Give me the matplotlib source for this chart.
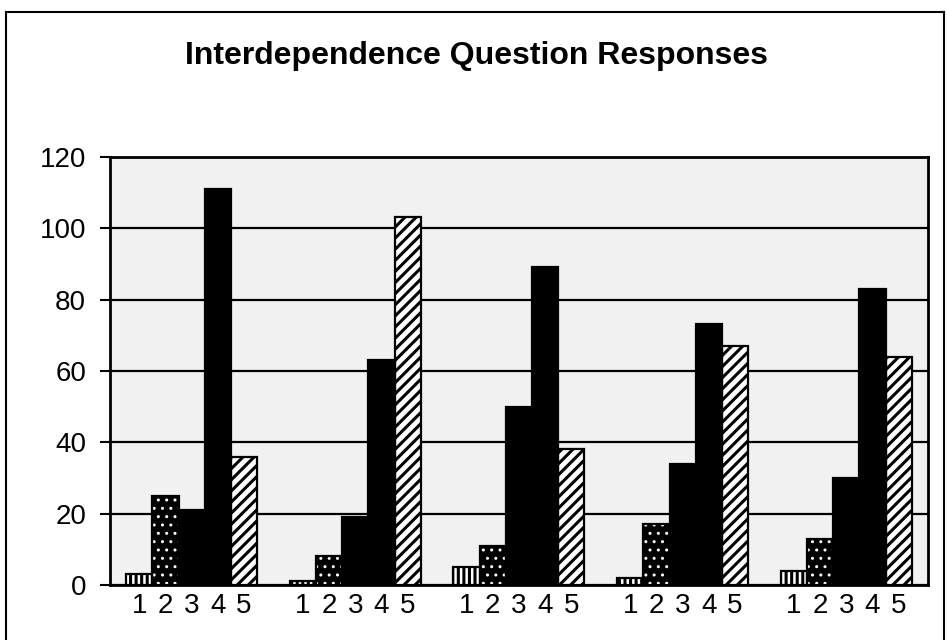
import numpy as np
import matplotlib
matplotlib.use('Agg')
import matplotlib.pyplot as plt
from matplotlib.lines import Line2D

# answers 1..5 for each of the five interdependence questions
questions = ['Q1', 'Q2', 'Q3', 'Q4', 'Q5']
responses = ['1', '2', '3', '4', '5']
resp1 = [3, 1, 5, 2, 4]
resp2 = [25, 8, 11, 17, 13]
resp3 = [21, 19, 50, 34, 30]
resp4 = [111, 63, 89, 73, 83]
resp5 = [36, 103, 38, 67, 64]
yticks = [0, 20, 40, 60, 80, 100, 120]

plt.rcParams['font.family'] = ['Liberation Sans', 'DejaVu Sans']
plt.rcParams['hatch.linewidth'] = 2.2

fig = plt.figure(figsize=(9.47, 6.4), dpi=100)
ax = fig.add_axes([0.116, 0.086, 0.864, 0.669])
ax.set_facecolor('#f1f1f1')

x = np.arange(len(questions))
w = 0.16
series = [resp1, resp2, resp3, resp4, resp5]
styles = [
    dict(facecolor='white', hatch='|||', hatch_edge='black'),
    dict(facecolor='black', hatch='..', hatch_edge='white'),
    dict(facecolor='black', hatch=None, hatch_edge='black'),
    dict(facecolor='black', hatch=None, hatch_edge='black'),
    dict(facecolor='white', hatch='///', hatch_edge='black'),
]

ticks_x = []
ticks_lbl = []
for j, (vals, st) in enumerate(zip(series, styles)):
    pos = x + (j - 2) * w
    bars = ax.bar(pos, vals, width=w, facecolor=st['facecolor'], edgecolor=st['hatch_edge'],
                  hatch=st['hatch'], linewidth=0, zorder=3)
    if j == 1:
        for b in bars:
            if hasattr(b, 'set_hatch_linewidth'):
                b.set_hatch_linewidth(1.0)
    ax.bar(pos, vals, width=w, facecolor='none', edgecolor='black', linewidth=1.6, zorder=4)
    ticks_x.extend(pos)
    ticks_lbl.extend([responses[j]] * len(pos))

ax.set_ylim(0, 120)
ax.set_xlim(-0.5, len(questions) - 0.5)
ax.set_yticks(yticks)
ax.set_yticklabels([str(t) for t in yticks], fontsize=20)
ax.yaxis.grid(True, color='black', linewidth=1.6, zorder=1)
ax.set_axisbelow(True)
ax.tick_params(axis='y', length=7, width=1.5, direction='out', pad=10)

ax.set_xticks(ticks_x)
ax.set_xticklabels(ticks_lbl, fontsize=20)
ax.tick_params(axis='x', length=0, pad=6)

for s in ax.spines.values():
    s.set_linewidth(2)
    s.set_color('black')

fig.text(0.503, 0.913, 'Interdependence Question Responses', ha='center', va='center',
         fontsize=23, fontweight='bold')

# outer frame of the chart
for xs, ys in [([0.006, 0.006], [0, 0.981]), ([0.006, 0.997], [0.981, 0.981]),
               ([0.997, 0.997], [0, 0.981])]:
    fig.add_artist(Line2D(xs, ys, transform=fig.transFigure, color='black', linewidth=1.5))

fig.savefig('out.png', dpi=100)
